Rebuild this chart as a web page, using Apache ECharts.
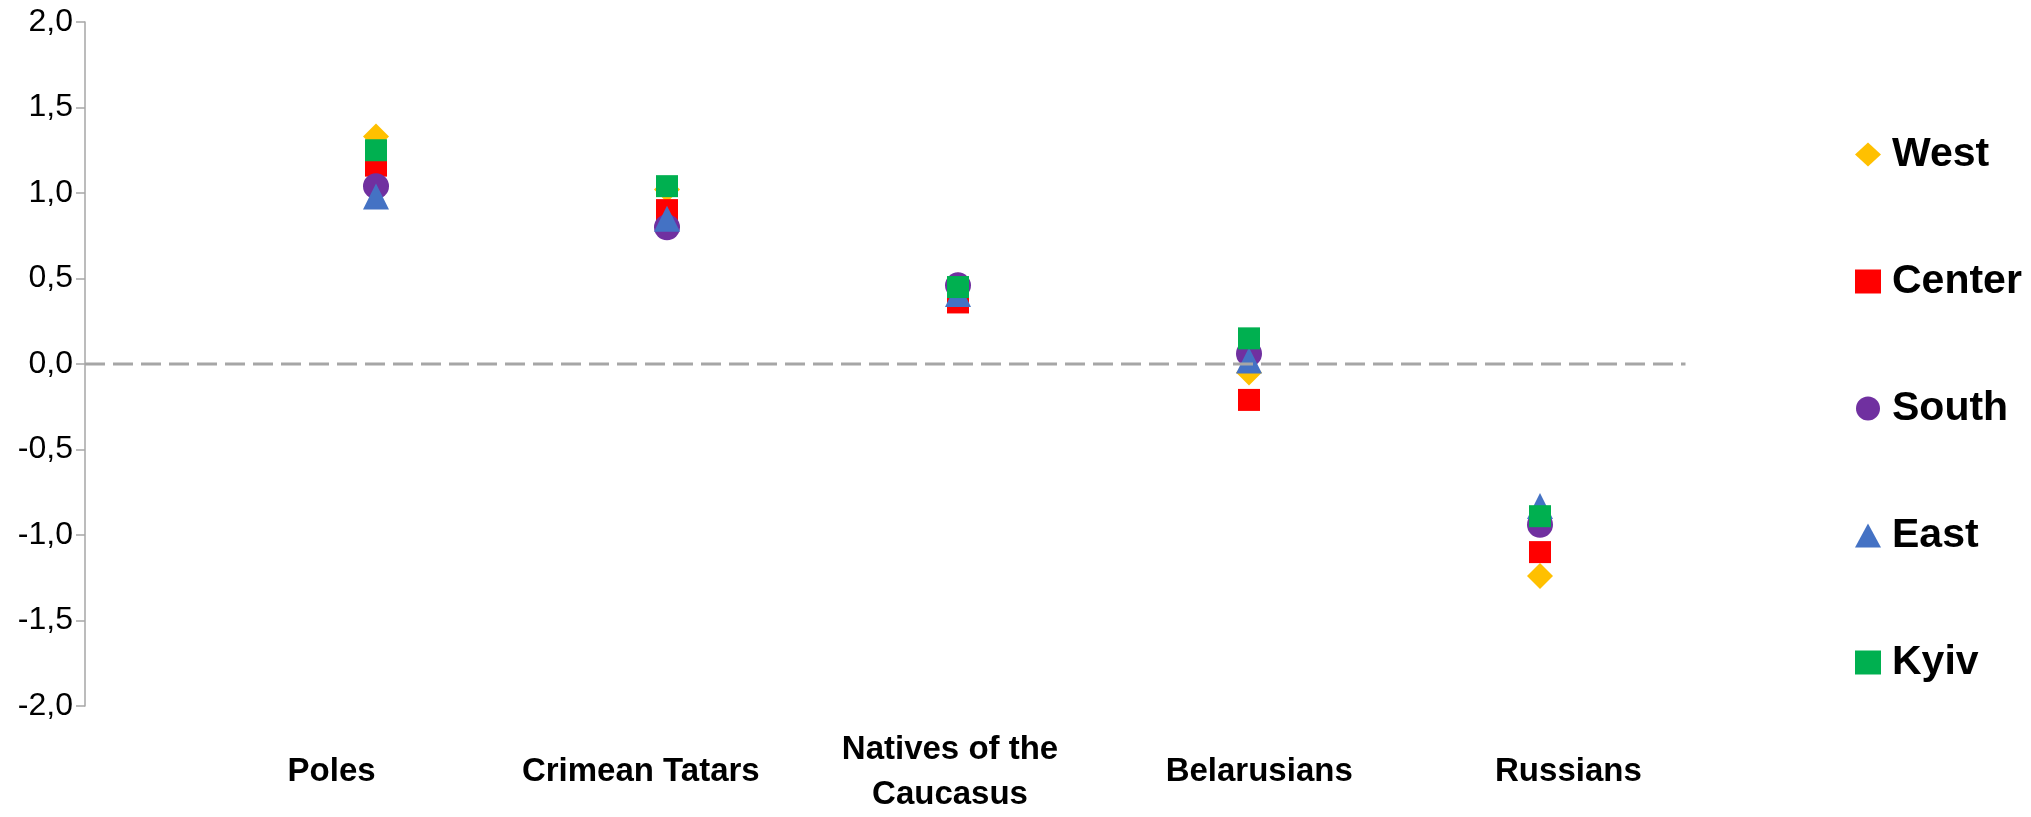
<!DOCTYPE html>
<html>
<head>
<meta charset="utf-8">
<script src="https://cdn.jsdelivr.net/npm/echarts@6/dist/echarts.min.js"></script>
<style>
  html, body { margin: 0; padding: 0; background: #fff; }
  #chart { width: 2031px; height: 817px; }
</style>
</head>
<body>
<div id="chart"></div>
<script>
// categories (points sit at x = 1..5; labels go on their own axis)
var categories = ['Poles', 'Crimean Tatars', 'Natives of the\nCaucasus', 'Belarusians', 'Russians'];
var yTicks = [-2, -1.5, -1, -0.5, 0, 0.5, 1, 1.5, 2];

// region values, one per category
var west   = [1.33, 1.02, 0.46, -0.05, -1.24];
var center = [1.16, 0.90, 0.36, -0.21, -1.10];
var south  = [1.04, 0.80, 0.46, 0.06, -0.94];
var east   = [0.98, 0.85, 0.41, 0.02, -0.83];
var kyiv   = [1.25, 1.04, 0.45, 0.15, -0.89];

var chart = echarts.init(document.getElementById('chart'));

function pts(arr) {
  return arr.map(function (v, i) { return [i + 1, v]; });
}

function region(name, data, symbol, size, color) {
  return {
    name: name,
    type: 'scatter',
    symbol: symbol,
    symbolSize: size,
    itemStyle: { color: color, opacity: 1 },
    data: pts(data)
  };
}

var option = {
  animation: false,
  backgroundColor: '#fff',
  grid: [
    { left: 85, right: 200, top: 22, bottom: 111 },
    // the category labels are spaced a bit wider than the points
    { left: 177, right: 308, top: 22, bottom: 111 }
  ],
  legend: {
    orient: 'vertical',
    left: 1850,
    top: 129,
    itemGap: 86,
    itemWidth: 26,
    itemHeight: 24,
    data: ['West', 'Center', 'South', 'East', 'Kyiv'],
    textStyle: {
      fontFamily: '"Liberation Sans", Arial, sans-serif',
      fontWeight: 'bold',
      fontSize: 41,
      color: '#000',
      padding: [0, 0, 0, 6]
    }
  },
  xAxis: [
    {
      type: 'value',
      gridIndex: 0,
      min: 0,
      max: 6,
      interval: 1,
      axisLine: { show: false },
      axisTick: { show: false },
      splitLine: { show: false },
      axisLabel: { show: false }
    },
    {
      type: 'category',
      gridIndex: 1,
      data: categories,
      axisLine: { show: false },
      axisTick: { show: false },
      splitLine: { show: false },
      axisLabel: {
        interval: 0,
        margin: 69,
        verticalAlign: 'middle',
        fontFamily: '"Liberation Sans", Arial, sans-serif',
        fontWeight: 'bold',
        fontSize: 33,
        lineHeight: 45,
        color: '#000'
      }
    }
  ],
  yAxis: [
    {
      type: 'value',
      gridIndex: 0,
      min: yTicks[0],
      max: yTicks[yTicks.length - 1],
      interval: 0.5,
      axisLine: { show: true, lineStyle: { color: '#A6A6A6', width: 1.5 } },
      axisTick: { show: true, length: 9, lineStyle: { color: '#A6A6A6', width: 1.5 } },
      splitLine: { show: false },
      axisLabel: {
        margin: 12,
        fontFamily: '"Liberation Sans", Arial, sans-serif',
        fontSize: 32,
        color: '#000',
        formatter: function (v) {
          return v.toFixed(1).replace('.', ',');
        }
      }
    },
    {
      type: 'value',
      gridIndex: 1,
      show: false
    }
  ],
  series: [
    {
      name: 'zero',
      type: 'line',
      silent: true,
      symbol: 'none',
      lineStyle: { color: '#A6A6A6', width: 3, type: [20, 8] },
      data: [[0, 0], [5.5, 0]]
    },
    region('West', west, 'diamond', 26, '#FFC000'),
    region('Center', center, 'rect', 22, '#FF0000'),
    region('South', south, 'circle', 26, '#7030A0'),
    region('East', east, 'triangle', 26, '#4472C4'),
    region('Kyiv', kyiv, 'rect', 22, '#00B050')
  ]
};

chart.setOption(option);
</script>
</body>
</html>
